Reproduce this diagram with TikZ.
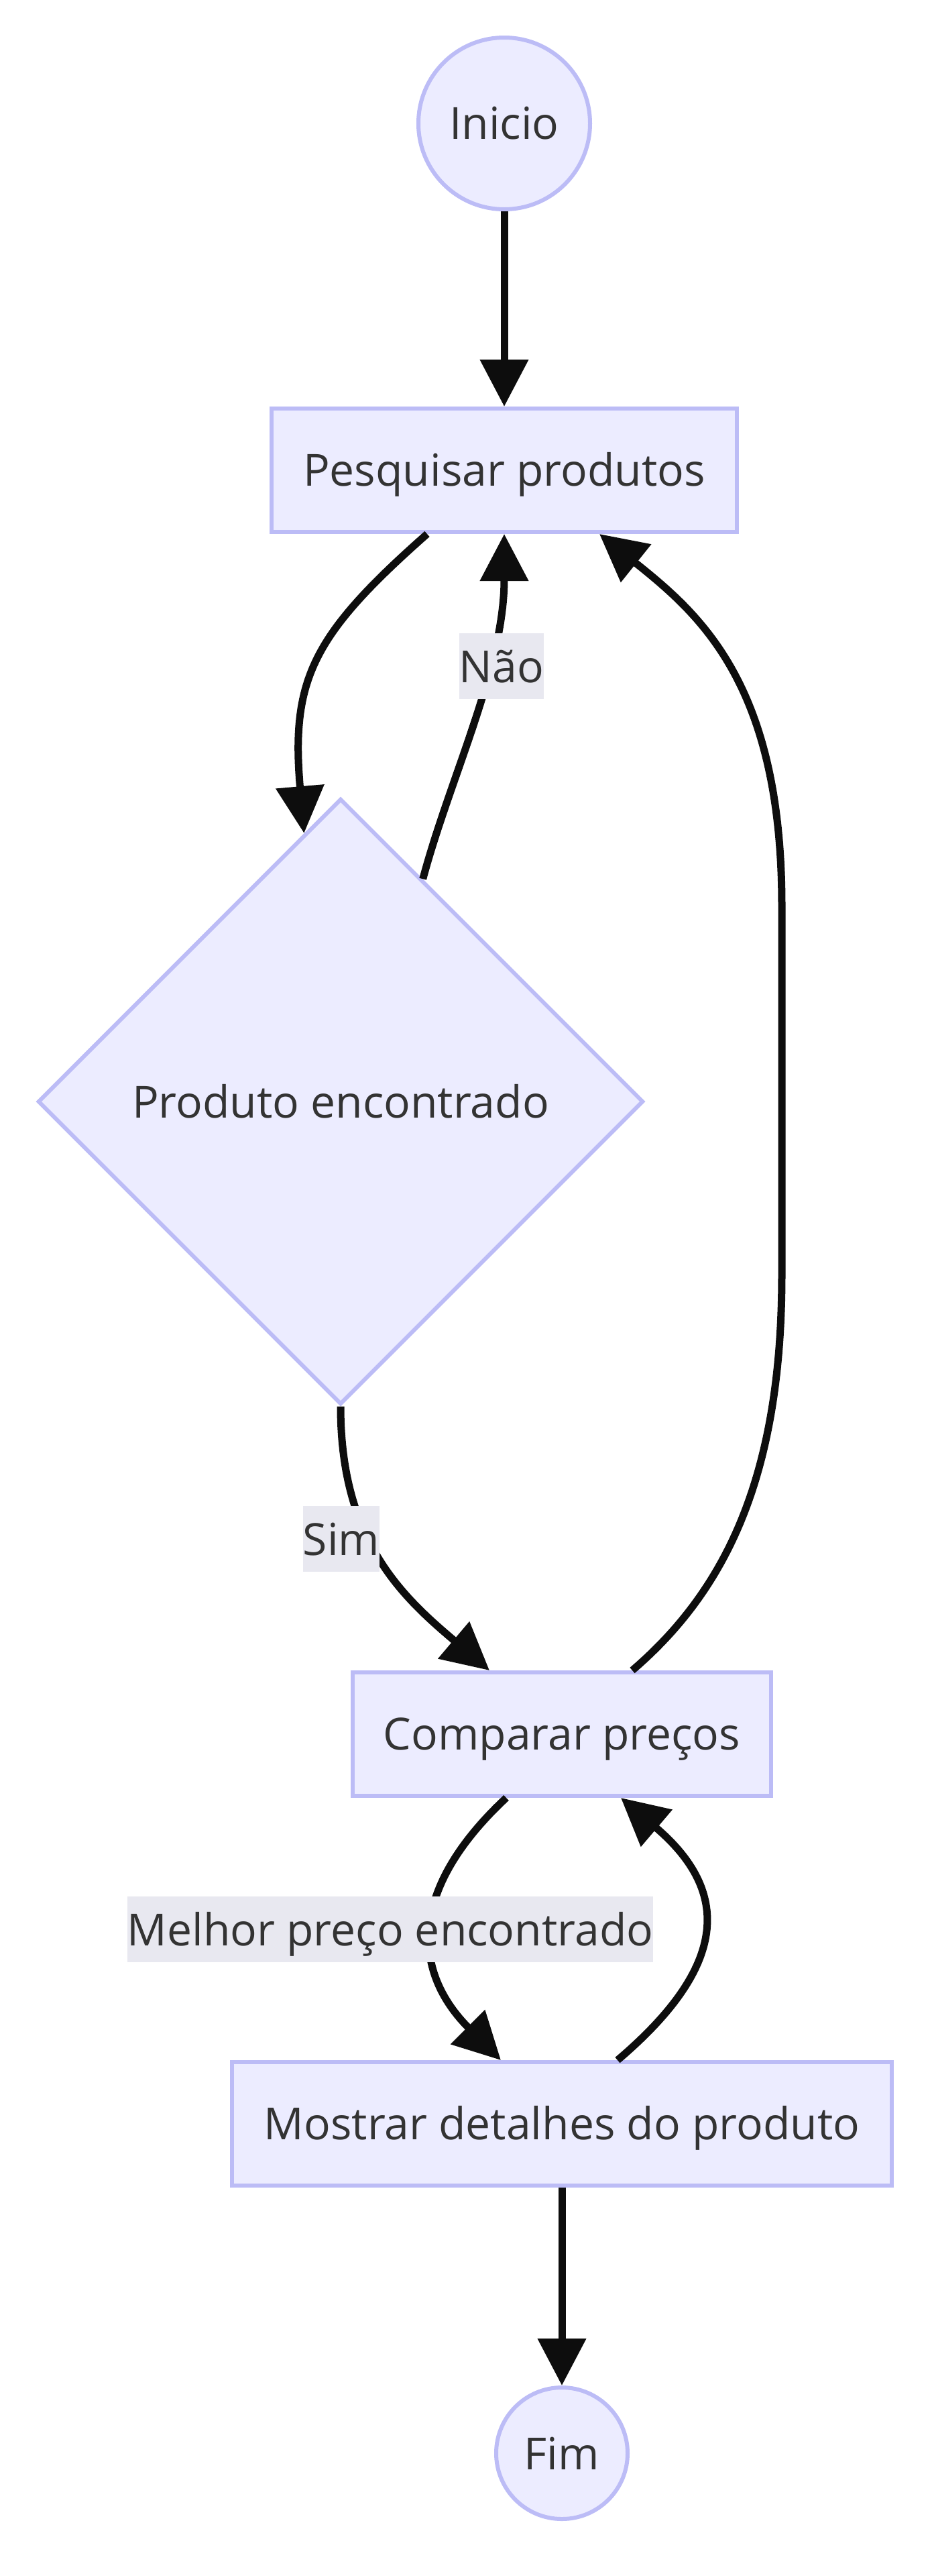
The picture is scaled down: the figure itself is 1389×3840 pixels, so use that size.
\documentclass[tikz,border=0pt]{standalone}
\usepackage{fontspec}
\setmainfont{Open Sans}
\usetikzlibrary{calc,shapes.geometric,arrows.meta}

\definecolor{nodefill}{HTML}{ECECFF}
\definecolor{nodeline}{HTML}{BCBCF6}
\definecolor{labelfill}{HTML}{E8E8F0}
\definecolor{edgeline}{HTML}{0D0D0D}
\definecolor{textgray}{HTML}{333333}

\begin{document}
\begin{tikzpicture}[x=0.5pt,y=0.5pt,font=\fontsize{33}{40}\selectfont,text=textgray,
  box/.style={rectangle,draw=nodeline,fill=nodefill,line width=3pt,minimum height=92pt,inner sep=0pt,text height=30pt,text depth=7pt},
  term/.style={circle,draw=nodeline,fill=nodefill,line width=3pt,inner sep=0pt},
  decision/.style={diamond,aspect=1,draw=nodeline,fill=nodefill,line width=3pt,minimum size=451.5pt,inner sep=0pt},
  edgelabel/.style={fill=labelfill,inner xsep=0pt,inner ysep=0pt,text height=36.5pt,text depth=12.5pt},
  flow/.style={draw=edgeline,line width=5.5pt,-{Triangle[length=35pt,width=35pt]}}]
  \useasboundingbox (0,0) rectangle (1389,-3840);
  % nodes
  \node[term,minimum size=128pt] (inicio) at (752,-184) {Inicio};
  \node[box,minimum width=347pt] (pesq) at (752,-701) {Pesquisar produtos};
  \node[decision] (prod) at (508,-1642) {Produto encontrado};
  \node[box,minimum width=312pt] (comp) at (838,-2585) {Comparar preços};
  \node[box,minimum width=492pt] (most) at (838,-3166) {Mostrar detalhes do produto};
  \node[term,minimum size=98pt] (fim) at (838,-3657) {Fim};
  % side of the loop back
  \coordinate (R1) at (1166,-1900); \coordinate (R2) at (1166,-1350);
  % edges
  \draw[flow] (inicio.south) -- (pesq.north);
  \draw[flow] ([xshift=-57.5pt]pesq.south) .. controls +(-170,-150) and +(-20,230) .. ($(prod.north)!0.12!(prod.west)$);
  \draw[flow] ($(prod.north)!0.27!(prod.east)$) .. controls +(40,150) and +(0,-200) .. (pesq.south);
  \draw[flow] (prod.south) .. controls +(0,-200) and +(-130,110) .. ([xshift=-54pt]comp.north);
  \draw[flow] ([xshift=52.5pt]comp.north) .. controls +(140,120) and +(0,-300) .. (R1) -- (R2)
    .. controls +(0,330) and +(150,-120) .. ([xshift=71pt]pesq.south);
  \draw[flow] ([xshift=-41.5pt]comp.south) .. controls +(-150,-140) and +(-130,130) .. ([xshift=-45.5pt]most.north);
  \draw[flow] ([xshift=41.5pt]most.north) .. controls +(165,140) and +(165,-140) .. ([xshift=44pt]comp.south);
  \draw[flow] (most.south) -- (fim.north);
  % edge labels
  \node[edgelabel] (nao) at (748,-993) {Não};
  \node[edgelabel] (sim) at (509,-2294) {Sim};
  \node[edgelabel] (melhor) at (582,-2876) {Melhor preço encontrado};
\end{tikzpicture}
\end{document}
